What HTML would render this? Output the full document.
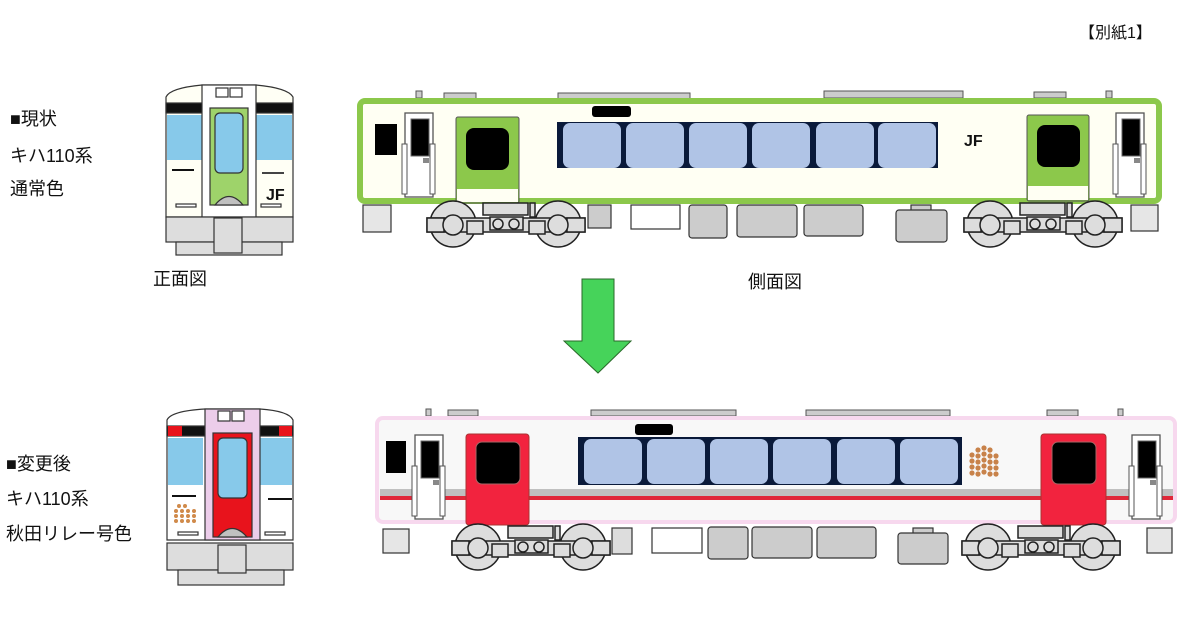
<!DOCTYPE html>
<html><head><meta charset="utf-8"><style>
body{margin:0;background:#fff;width:1200px;height:629px;overflow:hidden}
svg{display:block}
text{font-family:"Liberation Sans","Noto Sans CJK JP",sans-serif;fill:#111}
</style></head><body>
<svg width="1200" height="629" viewBox="0 0 1200 629" xmlns="http://www.w3.org/2000/svg">
<defs>
<g id="bogie" stroke="#222" stroke-width="1.5">
  <circle cx="0" cy="0" r="23" fill="#ddd"/>
  <circle cx="105" cy="0" r="23" fill="#ddd"/>
  <rect x="-26" y="-6" width="158" height="14" fill="#ddd"/>
  <rect x="-26" y="-6" width="17" height="14" fill="#ddd"/>
  <rect x="114" y="-6" width="18" height="14" fill="#ddd"/>
  <circle cx="0" cy="1" r="10" fill="#ddd"/>
  <circle cx="105" cy="1" r="10" fill="#ddd"/>
  <rect x="14" y="-3" width="16" height="13" fill="#ddd"/>
  <rect x="76" y="-3" width="16" height="13" fill="#ddd"/>
  <rect x="30" y="-21" width="45" height="12" fill="#ddd"/>
  <rect x="37" y="-7" width="33" height="13" fill="#ddd"/>
  <circle cx="45" cy="0" r="5" fill="#ddd"/>
  <circle cx="61" cy="0" r="5" fill="#ddd"/>
  <rect x="77" y="-21" width="5" height="14" fill="#ddd"/>
</g>
<g id="reardoor">
  <rect x="0" y="0" width="28" height="84" fill="#fff" stroke="#555" stroke-width="1.3"/>
  <rect x="6" y="6" width="18" height="37" fill="#000" stroke="#666"/>
  <rect x="-3" y="31" width="5" height="50" fill="#fff" stroke="#555"/>
  <rect x="25" y="31" width="5" height="50" fill="#fff" stroke="#555"/>
  <rect x="18" y="45" width="6" height="5" fill="#888"/>
</g>
<g id="win">
  <rect x="0" y="0" width="58" height="45" rx="7" fill="#b0c4e6"/>
</g>
</defs>

<!-- labels -->
<text x="1079" y="38" font-size="16">【別紙1】</text>
<text x="10" y="125" font-size="18">■現状</text>
<text x="10" y="162" font-size="18">キハ110系</text>
<text x="10" y="195" font-size="18">通常色</text>
<text x="153" y="285" font-size="18">正面図</text>
<text x="748" y="288" font-size="18">側面図</text>
<text x="6" y="470" font-size="18">■変更後</text>
<text x="6" y="505" font-size="18">キハ110系</text>
<text x="6" y="540" font-size="18">秋田リレー号色</text>

<!-- arrow -->
<polygon points="582,279 614,279 614,341 631,341 598,373 564,341 582,341" fill="#46d35a" stroke="#2a6a2a" stroke-width="1"/>

<!-- ===== TOP FRONT ===== -->
<g stroke="#333" stroke-width="1.2">
  <path d="M166,217 L166,97 Q170,88 202,85 L256,85 Q288,88 293,97 L293,217 Z" fill="#fffff5"/>
  <rect x="166" y="103" width="127" height="10" fill="#111"/>
  <rect x="167" y="115" width="35" height="45" fill="#87c9ea" stroke="none"/>
  <rect x="256" y="115" width="36" height="45" fill="#87c9ea" stroke="none"/>
  <rect x="202" y="85" width="54" height="132" fill="#fff"/>
  <rect x="216" y="88" width="12" height="9" fill="#fff"/>
  <rect x="230" y="88" width="12" height="9" fill="#fff"/>
  <rect x="210" y="108" width="38" height="97" fill="#9ed36a"/>
  <rect x="215" y="113" width="28" height="60" rx="5" fill="#87c9ea"/>
  <path d="M215,205 Q229,188 243,205 Z" fill="#c0c0c0"/>
  <rect x="172" y="169" width="22" height="2" fill="#111" stroke="none"/>
  <rect x="262" y="172" width="22" height="2" fill="#444" stroke="none"/>
  <rect x="176" y="204" width="20" height="3" fill="#fff"/>
  <rect x="261" y="204" width="20" height="3" fill="#fff"/>
  <rect x="166" y="217" width="127" height="25" fill="#ddd"/>
  <rect x="176" y="242" width="106" height="13" fill="#ddd"/>
  <rect x="214" y="218" width="28" height="35" fill="#ddd"/>
</g>
<text x="266" y="200" font-size="16" font-weight="bold">JF</text>

<!-- ===== BOTTOM FRONT ===== -->
<g stroke="#333" stroke-width="1.2">
  <path d="M167,540 L167,420 Q171,411 205,409 L260,409 Q289,411 293,420 L293,540 Z" fill="#fff"/>
  <rect x="167" y="426" width="126" height="10" fill="#111"/>
  <rect x="168" y="426" width="14" height="10" fill="#e8131c" stroke="none"/>
  <rect x="279" y="426" width="13" height="10" fill="#e8131c" stroke="none"/>
  <rect x="168" y="438" width="35" height="47" fill="#87c9ea" stroke="none"/>
  <rect x="260" y="438" width="32" height="47" fill="#87c9ea" stroke="none"/>
  <rect x="205" y="409" width="55" height="131" fill="#eccdea"/>
  <rect x="218" y="411" width="12" height="10" fill="#fff"/>
  <rect x="232" y="411" width="12" height="10" fill="#fff"/>
  <rect x="213" y="433" width="39" height="104" fill="#e8131c"/>
  <rect x="218" y="438" width="29" height="60" rx="5" fill="#87c9ea"/>
  <path d="M218,537 Q232,520 247,537 Z" fill="#c0c0c0"/>
  <rect x="172" y="495" width="24" height="2" fill="#111" stroke="none"/>
  <rect x="268" y="498" width="24" height="2" fill="#111" stroke="none"/>
  <rect x="178" y="532" width="20" height="3" fill="#fff"/>
  <rect x="265" y="532" width="20" height="3" fill="#fff"/>
  <rect x="167" y="543" width="126" height="27" fill="#ddd"/>
  <rect x="178" y="570" width="106" height="15" fill="#ddd"/>
  <rect x="218" y="545" width="28" height="28" fill="#ddd"/>
</g>
<g fill="#d08a4a">
  <circle cx="179" cy="506" r="2"/><circle cx="185" cy="506" r="2"/>
  <circle cx="176" cy="511" r="2"/><circle cx="182" cy="511" r="2"/><circle cx="188" cy="511" r="2"/><circle cx="194" cy="511" r="2"/>
  <circle cx="176" cy="516" r="2"/><circle cx="182" cy="516" r="2"/><circle cx="188" cy="516" r="2"/><circle cx="194" cy="516" r="2"/>
  <circle cx="176" cy="521" r="2"/><circle cx="182" cy="521" r="2"/><circle cx="188" cy="521" r="2"/><circle cx="194" cy="521" r="2"/>
</g>

<!-- ===== TOP SIDE ===== -->
<g fill="#ccc" stroke="#555" stroke-width="1">
  <rect x="416" y="91" width="6" height="7"/>
  <rect x="444" y="93" width="32" height="6"/>
  <rect x="558" y="93" width="132" height="6"/>
  <rect x="824" y="91" width="139" height="7"/>
  <rect x="1034" y="92" width="32" height="6"/>
  <rect x="1106" y="91" width="6" height="7"/>
</g>
<rect x="360" y="101" width="799" height="100" rx="5" fill="#fffff3" stroke="#8cc84b" stroke-width="6"/>
<rect x="375" y="124" width="22" height="31" fill="#000"/>
<use href="#reardoor" x="405" y="113"/>
<use href="#reardoor" x="1116" y="113"/>
<rect x="456" y="117" width="63" height="86" rx="2" fill="#8cc84b" stroke="#555"/>
<rect x="457" y="189" width="61" height="13" fill="#fffff3"/>
<rect x="466" y="128" width="43" height="42" rx="8" fill="#000"/>
<rect x="1027" y="115" width="62" height="86" rx="2" fill="#8cc84b" stroke="#555"/>
<rect x="1028" y="186" width="60" height="14" fill="#fffff3"/>
<rect x="1037" y="125" width="43" height="42" rx="8" fill="#000"/>
<rect x="592" y="106" width="39" height="11" rx="3" fill="#000"/>
<rect x="557" y="122" width="381" height="46" fill="#0a1a3a"/>
<use href="#win" x="563" y="123"/><use href="#win" x="626" y="123"/><use href="#win" x="689" y="123"/>
<use href="#win" x="752" y="123"/><use href="#win" x="816" y="123"/><use href="#win" x="878" y="123"/>
<text x="964" y="146" font-size="16" font-weight="bold">JF</text>
<g stroke="#333" stroke-width="1.2">
  <rect x="363" y="205" width="28" height="27" fill="#e6e6e6"/>
  <rect x="588" y="205" width="23" height="23" fill="#ccc"/>
  <rect x="631" y="205" width="49" height="24" fill="#fff"/>
  <rect x="689" y="205" width="38" height="33" rx="3" fill="#ccc"/>
  <rect x="737" y="205" width="60" height="32" rx="3" fill="#ccc"/>
  <rect x="804" y="205" width="59" height="31" rx="3" fill="#ccc"/>
  <rect x="911" y="205" width="20" height="6" fill="#ccc"/>
  <rect x="896" y="210" width="51" height="32" rx="3" fill="#ccc"/>
  <rect x="1131" y="205" width="27" height="26" fill="#e6e6e6"/>
</g>
<use href="#bogie" x="453" y="224"/>
<use href="#bogie" x="990" y="224"/>

<!-- ===== BOTTOM SIDE ===== -->
<g fill="#ccc" stroke="#555" stroke-width="1">
  <rect x="426" y="409" width="5" height="7"/>
  <rect x="448" y="410" width="30" height="6"/>
  <rect x="591" y="410" width="145" height="6"/>
  <rect x="806" y="410" width="144" height="6"/>
  <rect x="1047" y="410" width="31" height="6"/>
  <rect x="1118" y="409" width="5" height="7"/>
</g>
<rect x="377" y="418" width="798" height="104" rx="6" fill="#f8f8f8" stroke="#f7d8ee" stroke-width="4"/>
<rect x="380" y="489" width="793" height="8" fill="#c0c0c0"/>
<rect x="380" y="496" width="793" height="4" fill="#e0283a"/>
<rect x="386" y="441" width="20" height="32" fill="#000"/>
<use href="#reardoor" x="415" y="435"/>
<use href="#reardoor" x="1132" y="435"/>
<rect x="466" y="434" width="63" height="91" rx="3" fill="#f2233e" stroke="#a33"/>
<rect x="476" y="442" width="44" height="42" rx="6" fill="#000" stroke="#a66"/>
<rect x="1041" y="434" width="65" height="91" rx="3" fill="#f2233e" stroke="#a33"/>
<rect x="1052" y="442" width="44" height="42" rx="6" fill="#000" stroke="#a66"/>
<rect x="635" y="424" width="38" height="11" rx="3" fill="#000"/>
<rect x="578" y="437" width="384" height="48" fill="#0a1a3a"/>
<use href="#win" x="584" y="439"/><use href="#win" x="647" y="439"/><use href="#win" x="710" y="439"/>
<use href="#win" x="773" y="439"/><use href="#win" x="837" y="439"/><use href="#win" x="900" y="439"/>
<g fill="#c8824a">
  <circle cx="972" cy="455" r="2.6"/><circle cx="972" cy="461" r="2.6"/><circle cx="972" cy="467" r="2.6"/><circle cx="972" cy="473" r="2.6"/>
  <circle cx="978" cy="450" r="2.6"/><circle cx="978" cy="456" r="2.6"/><circle cx="978" cy="462" r="2.6"/><circle cx="978" cy="468" r="2.6"/><circle cx="978" cy="474" r="2.6"/>
  <circle cx="984" cy="448" r="2.6"/><circle cx="984" cy="454" r="2.6"/><circle cx="984" cy="460" r="2.6"/><circle cx="984" cy="466" r="2.6"/><circle cx="984" cy="472" r="2.6"/>
  <circle cx="990" cy="450" r="2.6"/><circle cx="990" cy="456" r="2.6"/><circle cx="990" cy="462" r="2.6"/><circle cx="990" cy="468" r="2.6"/><circle cx="990" cy="474" r="2.6"/>
  <circle cx="996" cy="456" r="2.6"/><circle cx="996" cy="462" r="2.6"/><circle cx="996" cy="468" r="2.6"/><circle cx="996" cy="474" r="2.6"/>
</g>
<g stroke="#333" stroke-width="1.2">
  <rect x="383" y="529" width="26" height="24" fill="#e6e6e6"/>
  <rect x="612" y="528" width="20" height="26" fill="#ddd"/>
  <rect x="652" y="528" width="50" height="25" fill="#fff"/>
  <rect x="708" y="527" width="40" height="32" rx="3" fill="#ccc"/>
  <rect x="752" y="527" width="60" height="31" rx="3" fill="#ccc"/>
  <rect x="817" y="527" width="59" height="31" rx="3" fill="#ccc"/>
  <rect x="913" y="528" width="20" height="6" fill="#ccc"/>
  <rect x="898" y="533" width="50" height="31" rx="3" fill="#ccc"/>
  <rect x="1147" y="528" width="25" height="25" fill="#e6e6e6"/>
</g>
<use href="#bogie" x="478" y="547"/>
<use href="#bogie" x="988" y="547"/>
</svg>
</body></html>
